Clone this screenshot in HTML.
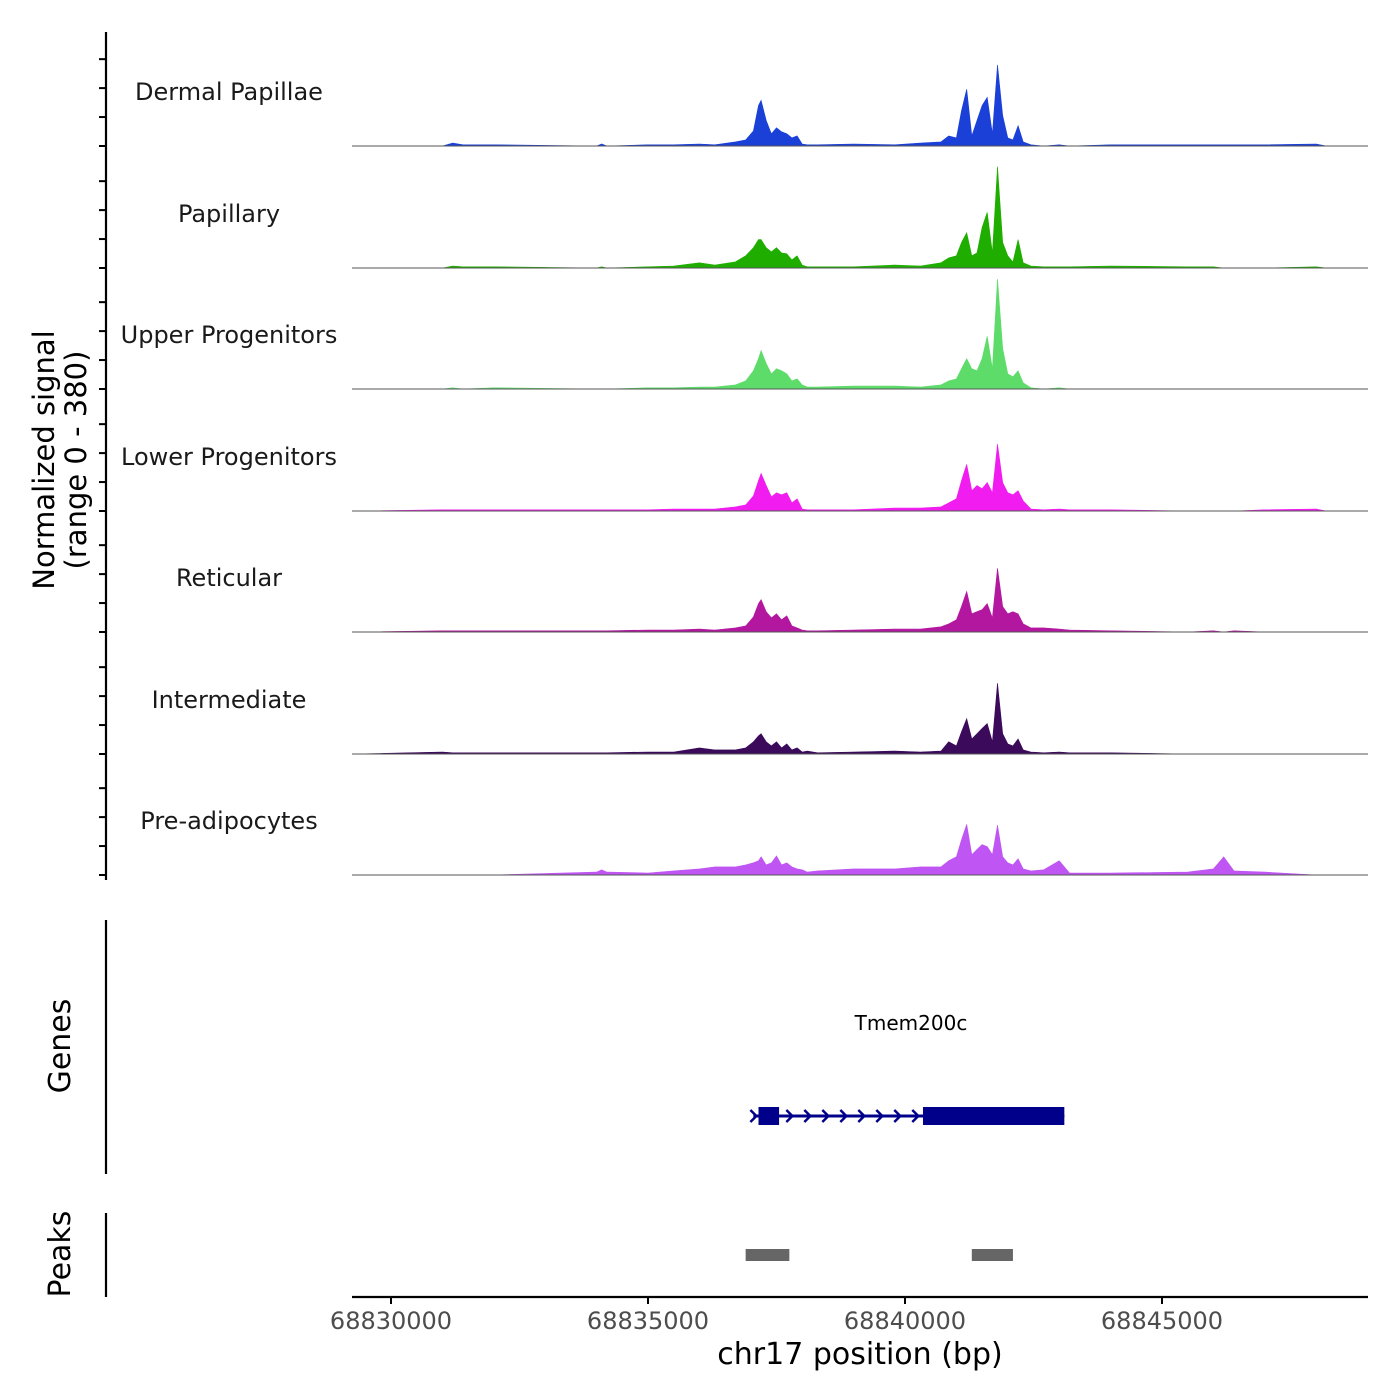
<!DOCTYPE html>
<html><head><meta charset="utf-8"><style>
html,body{margin:0;padding:0;background:#fff;}
svg{display:block;font-family:"DejaVu Sans","Liberation Sans",sans-serif;}
</style></head><body>
<svg id="chart" width="1400" height="1400" viewBox="0 0 1400 1400">
<g id="tracks"></g>
<g id="yaxis"></g>
<text transform="translate(54,460) rotate(-90)" text-anchor="middle" font-size="29" fill="#000">Normalized signal</text>
<text transform="translate(86,460) rotate(-90)" text-anchor="middle" font-size="29" fill="#000">(range 0 - 380)</text>
<line x1="106" y1="920" x2="106" y2="1174" stroke="#000" stroke-width="2.2"/>
<text transform="translate(70,1046) rotate(-90)" text-anchor="middle" font-size="30">Genes</text>
<line x1="106" y1="1213" x2="106" y2="1297" stroke="#000" stroke-width="2.2"/>
<text transform="translate(70,1254) rotate(-90)" text-anchor="middle" font-size="30">Peaks</text>
<g id="genes"></g>
<g id="peaks"></g>
<g id="xaxis"></g>
<text x="860" y="1364" text-anchor="middle" font-size="30">chr17 position (bp)</text>
</svg>
<script>
const positions=[68829300,68831000,68831200,68831400,68832000,68834000,68834100,68834200,68835000,68835500,68836000,68836300,68836700,68836900,68837050,68837150,68837200,68837300,68837400,68837500,68837600,68837700,68837800,68837900,68838000,68838100,68838300,68839000,68839800,68840300,68840700,68840850,68841000,68841100,68841200,68841300,68841400,68841500,68841600,68841700,68841800,68841900,68842000,68842100,68842200,68842300,68842450,68842700,68843000,68843200,68844000,68845500,68846000,68846200,68846400,68847000,68848000,68848200,68849000];
const trackNames=["Dermal Papillae","Papillary","Upper Progenitors","Lower Progenitors","Reticular","Intermediate","Pre-adipocytes"];
const trackColors=["#1a40d8","#1fae00","#5ddc6a","#f01cf0","#b3179f","#3b0a5a","#bf55f2"];
const dermalValues=[0,0,10,4,4,0,7,0,4,4,7,4,14,21,52,140,158,88,42,63,49,42,28,35,7,4,4,7,4,10,14,35,28,122,196,35,88,140,168,42,280,105,28,21,70,14,4,0,4,0,4,4,4,4,4,4,7,0,0];
const papillaryValues=[0,0,7,4,4,0,4,0,4,7,18,10,21,42,70,98,98,70,56,70,52,49,28,42,10,4,4,4,10,7,18,35,42,88,122,42,52,140,192,52,350,88,42,21,98,18,7,4,4,4,7,4,4,0,0,0,4,0,0];
const upperValues=[0,0,4,0,4,0,0,0,4,4,7,7,14,28,63,105,133,88,52,70,63,52,28,35,14,7,7,10,10,7,14,28,35,70,105,70,63,105,182,70,380,140,52,42,63,21,4,0,4,0,0,0,0,0,0,0,0,0,0];
const lowerValues=[0,4,4,4,4,4,4,4,4,7,7,7,14,21,52,105,130,88,49,63,56,63,28,42,7,4,4,4,10,10,14,28,42,105,161,70,88,77,98,63,231,98,63,56,70,35,7,4,7,4,4,0,0,0,0,4,7,0,0];
const reticularValues=[0,4,4,4,4,4,4,4,7,7,10,7,14,21,52,98,112,70,49,63,42,56,21,14,7,4,4,7,10,10,18,28,42,88,140,63,70,77,98,49,220,88,63,70,63,28,14,14,10,7,4,0,4,0,4,0,0,0,0];
const intermediateValues=[0,7,4,4,4,4,4,4,7,7,21,14,14,21,42,63,70,42,28,42,21,35,14,21,7,10,4,7,10,7,10,42,28,77,122,52,70,88,105,42,245,70,35,28,52,14,7,4,7,4,4,0,0,0,0,0,0,0,0];
const preadipValues=[0,0,0,0,0,10,18,10,7,14,21,28,28,35,42,49,63,35,42,66,35,42,28,21,18,10,14,21,21,28,28,49,63,122,175,70,88,105,98,70,172,63,42,35,56,21,14,18,49,7,7,10,21,63,14,10,0,0,0];
const xTicks=[68830000,68835000,68840000,68845000];
const yTicks=[0,100,200,300];
const geneName="Tmem200c";
const geneStart=68837050, geneEnd=68843100;
const exonStarts=[68837150,68840350];
const exonEnds=[68837550,68843100];
const peakStarts=[68836900,68841300];
const peakEnds=[68837750,68842100];

const NS="http://www.w3.org/2000/svg";
const allValues=[dermalValues,papillaryValues,upperValues,lowerValues,reticularValues,intermediateValues,preadipValues];
const X0=68829241,X1=68849008,PX0=352,PX1=1368;
function xs(bp){return PX0+(bp-X0)/(X1-X0)*(PX1-PX0);}
const baselines=[146,268,389,511,632,754,875];
const trackH=110,yMax=380;
function ys(v,i){return baselines[i]-v/yMax*trackH;}
function mk(tag,attrs,parent){const e=document.createElementNS(NS,tag);for(const k in attrs)e.setAttribute(k,attrs[k]);parent.appendChild(e);return e;}
const tg=document.getElementById('tracks');
allValues.forEach((vals,i)=>{
  let d="M"+xs(positions[0])+","+baselines[i];
  positions.forEach((p,j)=>{d+=" L"+xs(p).toFixed(1)+","+ys(vals[j],i).toFixed(1);});
  d+=" L"+xs(positions[positions.length-1])+","+baselines[i]+" Z";
  const a=mk('path',{d:d,fill:trackColors[i],stroke:trackColors[i],'stroke-width':0.6},tg);
  
  
  const b=mk('line',{x1:PX0,x2:PX1,y1:baselines[i],y2:baselines[i],stroke:'#555','stroke-width':1},tg);
  
  
  const t=mk('text',{x:229,y:baselines[i]-46,'text-anchor':'middle','font-size':24,fill:'#1a1a1a'},tg);
  t.textContent=trackNames[i];
  
  
});
const ya=document.getElementById('yaxis');
const yl=mk('line',{x1:106,x2:106,y1:32,y2:880,stroke:'#000','stroke-width':2.2},ya);


baselines.forEach((b,i)=>{yTicks.forEach(v=>{
  const y=ys(v,i);
  const tk=mk('line',{x1:99,x2:106,y1:y,y2:y,stroke:'#000','stroke-width':2},ya);
  
  
});});
const gg=document.getElementById('genes');
const gy=1116;
const gl=mk('line',{x1:xs(geneStart),x2:xs(geneEnd),y1:gy,y2:gy,stroke:'#00008b','stroke-width':3},gg);


for(let bp=geneStart;bp<exonStarts[1];bp+=350){
  const x=xs(bp);
  const ch=mk('path',{d:`M${x-3},${gy-6} L${x+3},${gy} L${x-3},${gy+6}`,fill:'none',stroke:'#00008b','stroke-width':2.5},gg);
  
  
}
exonStarts.forEach((s,k)=>{
  const r=mk('rect',{x:xs(s),y:gy-9,width:xs(exonEnds[k])-xs(s),height:18,fill:'#00008b'},gg);
  
  
});
const gt=mk('text',{x:911,y:1030,'text-anchor':'middle','font-size':20},gg);
gt.textContent=geneName;


const pg=document.getElementById('peaks');
peakStarts.forEach((s,k)=>{
  const r=mk('rect',{x:xs(s),y:1249,width:xs(peakEnds[k])-xs(s),height:12,fill:'#666'},pg);
  
  
});
const xa=document.getElementById('xaxis');
const xl=mk('line',{x1:PX0,x2:PX1,y1:1297,y2:1297,stroke:'#000','stroke-width':2.2},xa);


xTicks.forEach(v=>{
  const x=xs(v);
  const tk=mk('line',{x1:x,x2:x,y1:1297,y2:1304,stroke:'#000','stroke-width':2},xa);
  
  
  const t=mk('text',{x:x,y:1329,'text-anchor':'middle','font-size':24,fill:'#4d4d4d'},xa);
  t.textContent=String(v);
  
  
});
</script>
</body></html>
